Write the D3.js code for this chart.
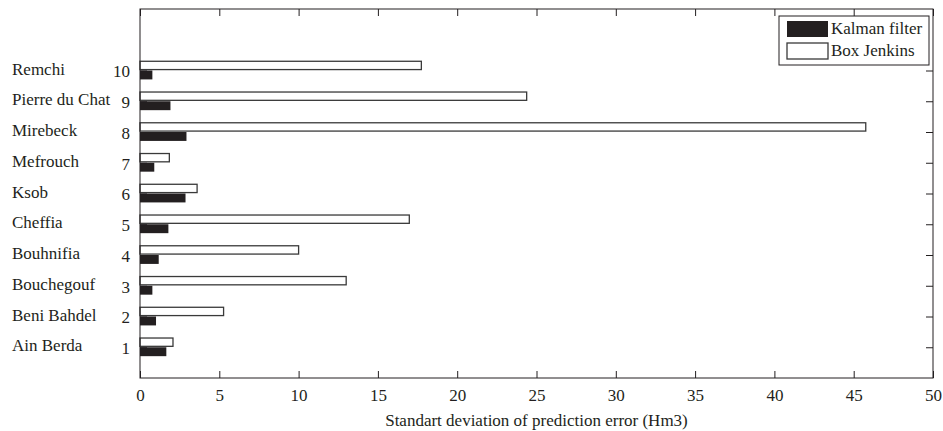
<!DOCTYPE html>
<html>
<head>
<meta charset="utf-8">
<script src="https://cdn.jsdelivr.net/npm/d3@7"></script>
<style>
  body { margin: 0; background: #fff; }
  text { font-family: "Liberation Serif", "Times New Roman", serif; fill: #231f20; }
</style>
</head>
<body>
<div id="chart"></div>
<script>
var w = 943;
var h = 431;

// data
var stations = ["Ain Berda", "Beni Bahdel", "Bouchegouf", "Bouhnifia", "Cheffia",
                "Ksob", "Mefrouch", "Mirebeck", "Pierre du Chat", "Remchi"];
var kalman = [1.66, 1.01, 0.78, 1.18, 1.79, 2.87, 0.9, 2.93, 1.92, 0.78];
var boxJenkins = [2.08, 5.27, 13.0, 10.0, 16.98, 3.6, 1.85, 45.76, 24.38, 17.74];
var xTicks = [0, 5, 10, 15, 20, 25, 30, 35, 40, 45, 50];
var yTicks = [1, 2, 3, 4, 5, 6, 7, 8, 9, 10];

var padLeft = 140, padRight = 933, padTop = 9, padBottom = 378;
var barH = 0.27; // bar thickness in axis units
var fs = 17;

var svg = d3.select("#chart")
            .append("svg")
            .attr("width", w)
            .attr("height", h);

var xScale = d3.scaleLinear().domain([0, 50]).range([padLeft, padRight]);
var yScale = d3.scaleLinear().domain([0, 12]).range([padBottom, padTop]);

// Box Jenkins bars (white, above the tick)
svg.selectAll("rect.bj")
   .data(boxJenkins)
   .enter()
   .append("rect")
   .attr("class", "bj")
   .attr("x", xScale(0))
   .attr("y", function (d, i) { return yScale(yTicks[i] + barH + 0.03); })
   .attr("width", function (d) { return xScale(d) - xScale(0); })
   .attr("height", yScale(0) - yScale(barH))
   .attr("fill", "#fff")
   .attr("stroke", "#3a3a3a")
   .attr("stroke-width", 1.3);

// Kalman filter bars (black, below the tick)
svg.selectAll("rect.kf")
   .data(kalman)
   .enter()
   .append("rect")
   .attr("class", "kf")
   .attr("x", xScale(0))
   .attr("y", function (d, i) { return yScale(yTicks[i]); })
   .attr("width", function (d) { return xScale(d) - xScale(0); })
   .attr("height", yScale(0) - yScale(barH + 0.02))
   .attr("fill", "#231f20");

// axes, ticks pointing inwards like matlab
var xAxis = svg.append("g")
   .attr("transform", "translate(0," + padBottom + ")")
   .call(d3.axisBottom(xScale).tickValues(xTicks).tickSize(-7).tickPadding(11));
var xTop = svg.append("g")
   .attr("transform", "translate(0," + padTop + ")")
   .call(d3.axisTop(xScale).tickValues(xTicks).tickSize(-7).tickFormat(""));
var yAxis = svg.append("g")
   .attr("transform", "translate(" + padLeft + ",0)")
   .call(d3.axisLeft(yScale).tickValues(yTicks).tickSize(-7).tickPadding(10));
var yRight = svg.append("g")
   .attr("transform", "translate(" + padRight + ",0)")
   .call(d3.axisRight(yScale).tickValues(yTicks).tickSize(-7).tickFormat(""));

svg.selectAll(".domain").remove();
svg.selectAll(".tick line").attr("stroke", "#231f20");
svg.selectAll(".tick text")
   .attr("font-family", "Liberation Serif, serif")
   .attr("font-size", fs)
   .attr("fill", "#231f20");
yAxis.selectAll(".tick text").attr("dy", "0.38em");

// frame
svg.append("rect")
   .attr("x", padLeft)
   .attr("y", padTop)
   .attr("width", padRight - padLeft)
   .attr("height", padBottom - padTop)
   .attr("fill", "none")
   .attr("stroke", "#231f20")
   .attr("stroke-width", 1);

// station names
svg.selectAll("text.name")
   .data(stations)
   .enter()
   .append("text")
   .attr("class", "name")
   .attr("x", 12)
   .attr("y", function (d, i) { return yScale(yTicks[i]) + 4; })
   .attr("font-size", fs)
   .text(function (d) { return d; });

// x axis title
svg.append("text")
   .attr("x", xScale(25))
   .attr("y", 426)
   .attr("text-anchor", "middle")
   .attr("font-size", fs)
   .text("Standart deviation of prediction error (Hm3)");

// legend
var legend = svg.append("g");
legend.append("rect")
   .attr("x", 779).attr("y", 16)
   .attr("width", 150).attr("height", 49)
   .attr("fill", "#fff")
   .attr("stroke", "#231f20");
legend.append("rect")
   .attr("x", 787).attr("y", 21)
   .attr("width", 41).attr("height", 16)
   .attr("fill", "#231f20");
legend.append("rect")
   .attr("x", 787).attr("y", 43)
   .attr("width", 41).attr("height", 16)
   .attr("fill", "#fff")
   .attr("stroke", "#3a3a3a")
   .attr("stroke-width", 1.3);
legend.append("text")
   .attr("x", 831).attr("y", 34)
   .attr("font-size", fs)
   .text("Kalman filter");
legend.append("text")
   .attr("x", 831).attr("y", 56)
   .attr("font-size", fs)
   .text("Box Jenkins");
</script>
</body>
</html>
